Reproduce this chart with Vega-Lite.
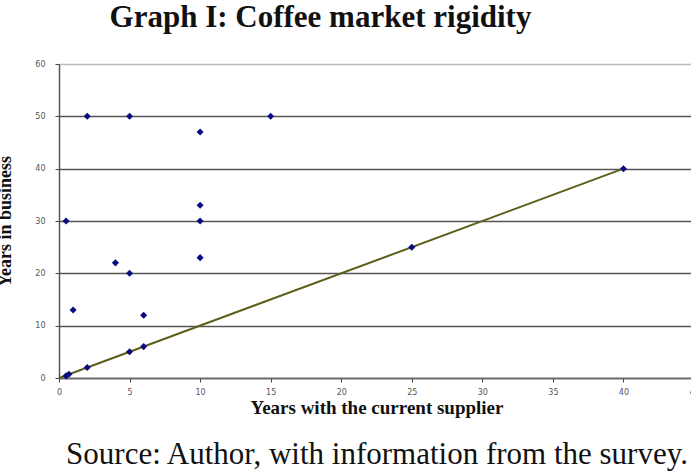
{
  "$schema": "https://vega.github.io/schema/vega-lite/v6.json",
  "autosize": "none",
  "width": 635,
  "height": 314,
  "padding": {"left": 59, "top": 64, "right": 0, "bottom": 93},
  "background": "white",
  "config": {"view": {"stroke": null}},
  "title": {
    "text": "Graph I:  Coffee market rigidity",
    "font": "Liberation Serif",
    "fontSize": 31,
    "fontWeight": "bold",
    "color": "#111",
    "anchor": "middle",
    "dx": -56,
    "offset": 26
  },
  "layer": [
    {
      "data": {"values": [
        {"supplier": 0, "business": 0},
        {"supplier": 40, "business": 40}
      ]},
      "mark": {"type": "line", "color": "#5e5e1a", "strokeWidth": 2},
      "encoding": {
        "x": {
          "field": "supplier", "type": "quantitative",
          "scale": {"domain": [0, 45], "nice": false, "zero": true},
          "axis": {
            "orient": "bottom",
            "offset": 61,
            "labels": false, "ticks": false, "domain": false, "grid": false,
            "title": "Source: Author, with information from the survey.",
            "titleFont": "Liberation Serif", "titleFontSize": 31, "titleFontWeight": "normal", "titleColor": "#111",
            "titlePadding": 0
          }
        },
        "y": {"field": "business", "type": "quantitative", "scale": {"domain": [0, 60], "nice": false}}
      }
    },
    {
      "data": {"values": [
        {"supplier": 0.5, "business": 30},
        {"supplier": 0.5, "business": 0.4},
        {"supplier": 0.7, "business": 0.7},
        {"supplier": 1, "business": 13},
        {"supplier": 2, "business": 50},
        {"supplier": 2, "business": 2},
        {"supplier": 4, "business": 22},
        {"supplier": 5, "business": 50},
        {"supplier": 5, "business": 20},
        {"supplier": 5, "business": 5},
        {"supplier": 6, "business": 12},
        {"supplier": 6, "business": 6},
        {"supplier": 10, "business": 47},
        {"supplier": 10, "business": 33},
        {"supplier": 10, "business": 30},
        {"supplier": 10, "business": 23},
        {"supplier": 15, "business": 50},
        {"supplier": 25, "business": 25},
        {"supplier": 40, "business": 40}
      ]},
      "mark": {"type": "point", "shape": "diamond", "filled": true, "color": "#0a0a80", "size": 50, "opacity": 1},
      "encoding": {
        "x": {
          "field": "supplier", "type": "quantitative",
          "axis": {
            "orient": "bottom",
            "values": [0, 5, 10, 15, 20, 25, 30, 35, 40, 45],
            "grid": false,
            "domainColor": "#666", "domainWidth": 1.5,
            "tickColor": "#444", "tickSize": 4, "tickWidth": 1,
            "labelFont": "DejaVu Sans", "labelFontSize": 8, "labelColor": "#555", "labelPadding": 6,
            "labelFlush": false,
            "title": "Years with the current supplier",
            "titleFont": "Liberation Serif", "titleFontSize": 19, "titleFontWeight": "bold", "titleColor": "#111",
            "titlePadding": 2
          }
        },
        "y": {
          "field": "business", "type": "quantitative",
          "axis": {
            "values": [0, 10, 20, 30, 40, 50, 60],
            "grid": true,
            "gridColor": {"condition": {"test": "datum.value == 60", "value": "#bbbbbb"}, "value": "#555555"},
            "gridWidth": 1.5,
            "domainColor": "#555", "domainWidth": 1.5,
            "tickColor": "#444", "tickSize": 4,
            "labelFont": "DejaVu Sans", "labelFontSize": 8, "labelColor": "#555", "labelPadding": 10,
            "title": "Years in business",
            "titleFont": "Liberation Serif", "titleFontSize": 18, "titleFontWeight": "bold", "titleColor": "#111",
            "titlePadding": 20
          }
        }
      }
    }
  ],
  "resolve": {"axis": {"x": "independent"}}
}
